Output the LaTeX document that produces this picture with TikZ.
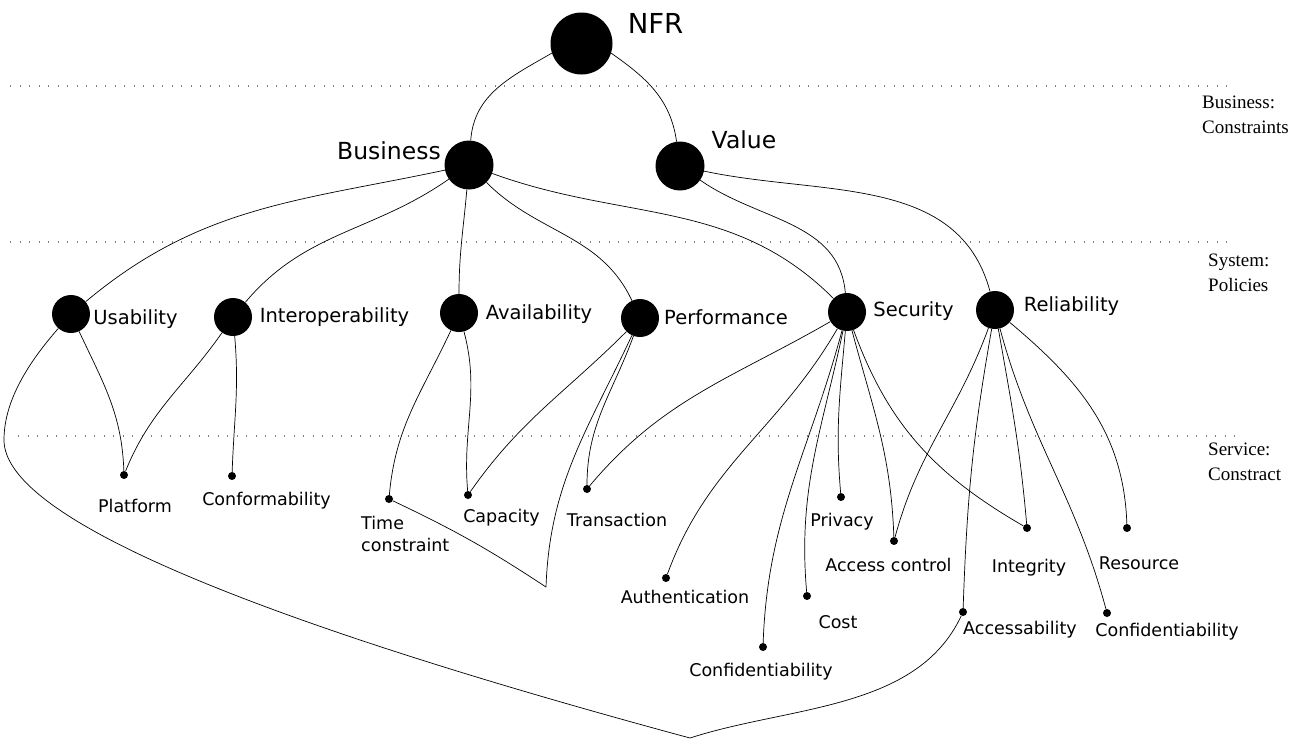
\documentclass[tikz,border=0pt]{standalone}
\usepackage{fontspec}
\setmainfont{DejaVu Sans}
\newfontfamily\layerfont{Liberation Serif}
\usepackage{tikz}
\usetikzlibrary{positioning}

\tikzset{
	root/.style={circle,fill,inner sep=0pt,minimum size=62pt},
	goal/.style={circle,fill,inner sep=0pt,minimum size=49pt},
	policy/.style={circle,fill,inner sep=0pt,minimum size=38pt},
	leaf/.style={circle,fill,inner sep=0pt,minimum size=8pt},
	biglabel/.style={font=\fontsize{23.5}{26}\selectfont,inner sep=0pt},
	midlabel/.style={font=\fontsize{19.5}{22}\selectfont,inner sep=0pt},
	smalllabel/.style={font=\fontsize{17.5}{22}\selectfont,inner sep=0pt},
	layer/.style={font=\layerfont\fontsize{19}{24}\selectfont,inner sep=0pt,align=left,anchor=north west},
	sep/.style={gray,line width=1.1pt,dash pattern=on 1.1pt off 8.4pt},
	link/.style={line width=0.7pt}
}

\begin{document}
\begin{tikzpicture}[x=1pt,y=1pt]
		\useasboundingbox (0,0) rectangle (1301,-753);
		
		% layers
		\draw[sep] (10,-86) -- (1235,-86);
		\draw[sep] (10,-242) -- (1235,-242);
		\draw[sep] (18,-436) -- (1235,-436);
		\node[layer] (lbus) at (1202,-96) {Business:\\[1pt]Constraints};
		\node[layer] (lsys) at (1208,-254) {System:\\[1pt]Policies};
		\node[layer] (lsrv) at (1208,-443) {Service:\\[1pt]Constract};
		
		% top
		\node[root] (nfr) at (581.5,-43.5) {};
		\node[font=\fontsize{27.5}{30}\selectfont,inner sep=0pt] (lnfr) at (655.5,-23) {NFR};
		\node[goal] (bus) at (469,-165) {};
		\node[biglabel] (lbusn) at (389,-151) {Business};
		\node[goal] (val) at (680,-166) {};
		\node[biglabel] (lval) at (744,-140) {Value};
		
		% policies
		\node[policy] (usab) at (71,-314) {};
		\node[midlabel] (lusab) at (135.5,-319) {Usability};
		\node[policy] (inter) at (233,-317) {};
		\node[midlabel] (linter) at (334.5,-317) {Interoperability};
		\node[policy] (avail) at (459,-313) {};
		\node[midlabel] (lavail) at (539,-314) {Availability};
		\node[policy] (perf) at (640,-318) {};
		\node[midlabel] (lperf) at (726,-317) {Performance};
		\node[policy] (sec) at (847,-312) {};
		\node[midlabel] (lsec) at (913.5,-311) {Security};
		\node[policy] (rel) at (995,-310) {};
		\node[midlabel] (lrel) at (1071.5,-306) {Reliability};
		
		% contract leaves
		\node[leaf] (plat) at (124,-475) {};
		\node[smalllabel] (lplat) at (135,-506) {Platform};
		\node[leaf] (conf) at (232,-476) {};
		\node[smalllabel] (lconf) at (266.5,-501) {Conformability};
		\node[leaf] (time) at (389,-499) {};
		\node[smalllabel,align=left,anchor=west] (ltime) at (361,-534) {Time\\constraint};
		\node[leaf] (cap) at (468,-495) {};
		\node[smalllabel] (lcap) at (501.5,-518) {Capacity};
		\node[leaf] (trans) at (587,-489) {};
		\node[smalllabel] (ltrans) at (617,-520) {Transaction};
		\node[leaf] (auth) at (666,-578) {};
		\node[smalllabel] (lauth) at (685,-597) {Authentication};
		\node[leaf] (sconf) at (763,-647) {};
		\node[smalllabel] (lsconf) at (761,-672) {Confidentiability};
		\node[leaf] (cost) at (807,-596) {};
		\node[smalllabel] (lcost) at (838,-622) {Cost};
		\node[leaf] (priv) at (841,-497) {};
		\node[smalllabel] (lpriv) at (842,-522) {Privacy};
		\node[leaf] (acc) at (894,-541) {};
		\node[smalllabel] (lacc) at (888.5,-565) {Access control};
		\node[leaf] (integ) at (1027,-528) {};
		\node[smalllabel] (linteg) at (1029,-568) {Integrity};
		\node[leaf] (res) at (1127,-528) {};
		\node[smalllabel] (lres) at (1139,-563) {Resource};
		\node[leaf] (accs) at (963,-612) {};
		\node[smalllabel] (laccs) at (1020,-630) {Accessability};
		\node[leaf] (rconf) at (1107,-613) {};
		\node[smalllabel] (lrconf) at (1167,-632) {Confidentiability};
		
		\coordinate (tapex) at (546,-587);
		\coordinate (ubend) at (4,-440);
		\coordinate (uapex) at (690,-738);
		
		% edges from the top
		\draw[link] (nfr.198) to[out=210,in=86] (bus);
		\draw[link] (nfr.-18) to[out=-35,in=98] (val);
		\draw[link] (bus) to[out=192,in=40] (usab);
		\draw[link] (bus) to[out=215,in=50] (inter);
		\draw[link] (bus) to[out=-95,in=90] (avail);
		\draw[link] (bus) to[out=-45,in=115] (perf);
		\draw[link] (bus) to[out=-20,in=135] (sec);
		\draw[link] (val) to[out=-35,in=95] (sec);
		\draw[link] (val) to[out=-12,in=105] (rel);
		
		% edges to the leaves
		\draw[link] (usab) to[out=-65,in=92] (plat);
		\draw[link] (inter) to[out=235,in=68] (plat);
		\draw[link] (inter) to[out=-85,in=88] (conf);
		\draw[link] (avail) to[out=245,in=85] (time);
		\draw[link] (avail) to[out=-75,in=95] (cap);
		\draw[link] (perf) to[out=225,in=55] (cap);
		\draw[link] (perf) to[out=250,in=90] (trans);
		\draw[link] (perf) to[out=245,in=88] (tapex);
		\draw[link] (time) to[bend left=4] (tapex);
		\draw[link] (sec) to[out=210,in=50] (trans);
		\draw[link] (sec) to[out=240,in=70] (auth);
		\draw[link] (sec) to[out=255,in=88] (sconf);
		\draw[link] (sec) to[out=258,in=95] (cost);
		\draw[link] (sec) to[out=-95,in=95] (priv);
		\draw[link] (sec) to[out=-75,in=92] (acc);
		\draw[link] (sec) to[out=-70,in=150] (integ);
		\draw[link] (rel) to[out=250,in=75] (acc);
		\draw[link] (rel) to[out=-100,in=88] (accs);
		\draw[link] (rel) to[out=-80,in=95] (integ);
		\draw[link] (rel) to[out=-75,in=105] (rconf);
		\draw[link] (rel) to[out=-40,in=92] (res);
		
		% long loop
		\draw[link] (usab) .. controls (20,-372) and (4,-408) .. (ubend)
		.. controls (4,-500) and (150,-592) .. (uapex);
		\draw[link] (accs) to[out=-115,in=18,looseness=0.9] (uapex);
		\end{tikzpicture}
\end{document}
